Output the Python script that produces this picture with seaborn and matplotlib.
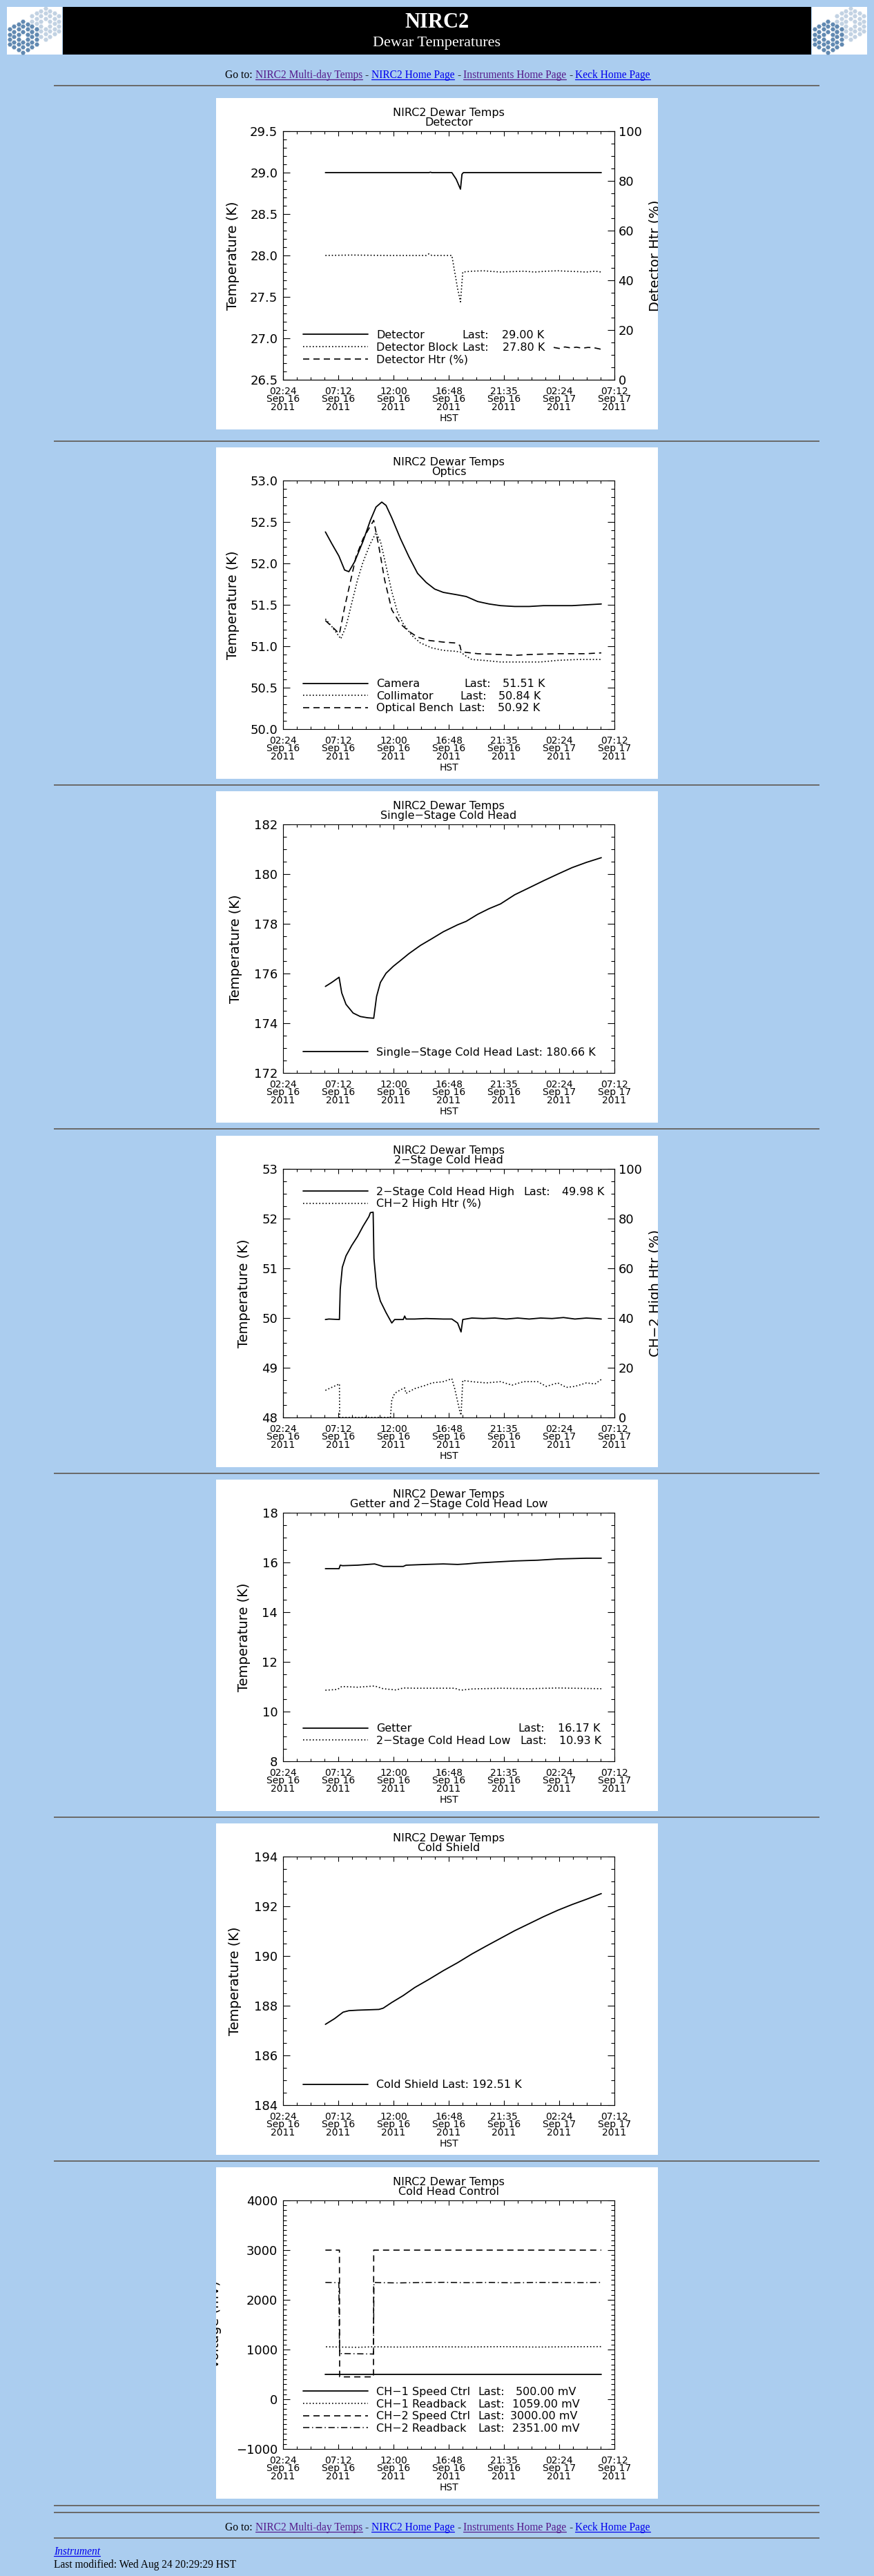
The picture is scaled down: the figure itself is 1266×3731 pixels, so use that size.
import numpy as np
import matplotlib
matplotlib.use("Agg")
import matplotlib.pyplot as plt
import matplotlib.ticker as mticker
from matplotlib.patches import Rectangle
from matplotlib.lines import Line2D
from matplotlib.transforms import Bbox, TransformedBbox
import seaborn as sns

W, H = 1266, 3731
BG = "#abcdef"
PAGE_FONT = ["Liberation Serif", "DejaVu Serif"]
LINK = "#0000ee"
VISITED = "#551a8b"

# time axis: hours after 02:24 Sep 16 2011 (HST)
xtick_hours = [0.0, 4.8, 9.6, 14.4, 19.2, 24.0, 28.8]
xtick_labels = ["02:24\nSep 16\n2011", "07:12\nSep 16\n2011", "12:00\nSep 16\n2011",
                "16:48\nSep 16\n2011", "21:35\nSep 16\n2011", "02:24\nSep 17\n2011",
                "07:12\nSep 17\n2011"]

# --- Detector ---
det_t = [3.68, 12.68, 12.81, 12.93, 14.67, 15.05, 15.42, 15.55, 15.67, 27.66]
det_v = [29.00, 29.00, 29.005, 29.00, 29.00, 28.92, 28.80, 28.98, 29.00, 29.00]
blk_t = [3.68, 6.0, 9.0, 12.44, 12.68, 12.93, 14.67, 14.92, 15.17, 15.42, 15.62, 16.41,
         17.41, 18.9, 19.9, 20.89, 21.89, 22.88, 23.88, 24.62, 25.62, 26.36, 27.11, 27.66]
blk_v = [28.00, 28.005, 28.00, 28.00, 28.02, 28.00, 28.00, 27.80, 27.60, 27.44, 27.80, 27.81,
         27.815, 27.80, 27.805, 27.81, 27.80, 27.81, 27.815, 27.81, 27.805, 27.80, 27.81, 27.80]
dhtr_t = [23.52, 24.0, 24.5, 25.0, 25.5, 26.0, 26.5, 27.0, 27.6]
dhtr_v = [13.0, 12.6, 13.2, 12.8, 13.1, 12.7, 13.0, 12.9, 12.3]

# --- Optics ---
cam_t = [3.68, 4.23, 4.85, 5.35, 5.72, 6.22, 6.96, 7.59, 8.08, 8.58, 8.95, 9.45, 10.20, 10.94,
         11.69, 12.44, 13.18, 13.93, 15.17, 15.92, 16.91, 17.91, 18.90, 20.14, 21.39, 22.63,
         23.88, 25.12, 26.36, 27.66]
cam_v = [52.38, 52.24, 52.09, 51.92, 51.90, 52.02, 52.27, 52.52, 52.68, 52.74, 52.70, 52.55,
         52.30, 52.08, 51.88, 51.77, 51.69, 51.65, 51.62, 51.60, 51.54, 51.51, 51.49, 51.48,
         51.48, 51.49, 51.49, 51.49, 51.50, 51.51]
col_t = [3.68, 4.23, 5.02, 5.47, 5.97, 6.47, 6.96, 7.59, 8.08, 8.46, 8.95, 9.45, 9.95, 10.45,
         11.19, 11.94, 12.93, 13.93, 14.92, 15.42, 15.92, 16.41, 17.41, 18.90, 20.14, 21.39,
         22.38, 23.88, 25.62, 27.66]
col_v = [51.33, 51.24, 51.09, 51.24, 51.52, 51.80, 52.02, 52.24, 52.37, 52.27, 51.97, 51.66,
         51.41, 51.27, 51.13, 51.04, 50.98, 50.95, 50.94, 50.93, 50.88, 50.84, 50.83, 50.81,
         50.81, 50.81, 50.81, 50.83, 50.84, 50.84]
ben_t = [3.68, 4.23, 4.90, 5.35, 5.84, 6.34, 6.96, 7.59, 7.88, 8.33, 8.83, 9.45, 10.20, 10.94,
         11.69, 12.68, 13.93, 14.92, 15.37, 15.47, 15.67, 16.91, 18.90, 20.14, 21.39, 23.88,
         26.36, 27.66]
ben_v = [51.31, 51.24, 51.15, 51.47, 51.77, 52.08, 52.30, 52.45, 52.52, 52.20, 51.80, 51.44,
         51.27, 51.18, 51.11, 51.07, 51.05, 51.04, 51.01, 50.95, 50.93, 50.91, 50.90, 50.89,
         50.90, 50.91, 50.91, 50.92]

# --- Single-stage cold head ---
sch_t = [3.68, 4.23, 4.87, 5.10, 5.47, 6.09, 6.71, 7.34, 7.88, 8.13, 8.46, 8.95, 9.58, 10.20,
         10.94, 11.94, 12.93, 13.93, 15.17, 15.92, 16.91, 17.91, 18.90, 20.14, 21.39, 22.63,
         23.88, 25.12, 26.36, 27.66]
sch_v = [175.48, 175.64, 175.85, 175.22, 174.76, 174.41, 174.27, 174.22, 174.20, 175.08,
         175.64, 176.01, 176.29, 176.52, 176.80, 177.13, 177.40, 177.68, 177.96, 178.10,
         178.38, 178.61, 178.80, 179.17, 179.45, 179.73, 180.00, 180.26, 180.47, 180.66]

# --- 2-stage cold head ---
hi_t = [3.68, 3.98, 4.90, 4.97, 5.15, 5.47, 5.97, 6.47, 6.96, 7.46, 7.59, 7.83, 7.90, 8.13,
        8.46, 8.95, 9.45, 9.70, 10.45, 10.57, 10.69, 11.44, 12.44, 13.93, 14.67, 15.17, 15.47,
        15.62, 16.41, 17.41, 18.40, 19.40, 20.39, 21.39, 22.38, 23.38, 24.37, 25.37, 26.36,
        27.11, 27.66]
hi_v = [49.97, 49.98, 49.97, 50.58, 51.02, 51.25, 51.46, 51.64, 51.85, 52.04, 52.12, 52.13,
        51.20, 50.62, 50.34, 50.11, 49.90, 49.97, 49.97, 50.04, 49.98, 49.98, 49.99, 49.98,
        49.98, 49.90, 49.72, 49.97, 50.00, 49.99, 50.00, 49.98, 50.00, 49.98, 50.00, 49.99,
        50.01, 49.98, 50.00, 49.99, 49.98]
h2_t = [3.68, 4.23, 4.90, 4.92, 9.33, 9.45, 9.70, 10.20, 10.57, 10.69, 11.44, 12.44, 12.93,
        13.93, 14.67, 14.92, 15.37, 15.47, 15.62, 16.41, 17.66, 18.90, 19.90, 20.89, 22.13,
        22.88, 23.88, 24.62, 25.37, 26.36, 27.11, 27.66]
h2_v = [10.9, 12.1, 13.5, 0.0, 0.0, 7.0, 9.7, 11.1, 11.9, 9.7, 11.6, 13.0, 13.9, 14.4, 15.6,
        11.6, 2.3, 0.9, 14.9, 14.4, 13.9, 14.4, 13.0, 14.4, 14.4, 12.5, 13.9, 12.1, 12.5, 13.9,
        13.5, 15.3]

# --- Getter and 2-stage low ---
get_t = [3.68, 4.87, 4.97, 5.17, 6.47, 7.96, 8.70, 10.45, 10.69, 12.44, 13.93, 15.17, 15.92,
         16.91, 18.90, 20.14, 22.13, 23.88, 26.36, 27.66]
get_v = [15.75, 15.75, 15.89, 15.87, 15.89, 15.94, 15.84, 15.84, 15.89, 15.92, 15.94, 15.92,
         15.94, 15.98, 16.03, 16.06, 16.09, 16.14, 16.17, 16.17]
low_t = [3.68, 4.73, 5.10, 6.47, 7.96, 8.70, 9.82, 10.45, 11.44, 14.92, 15.42, 16.41, 18.90,
         21.39, 23.88, 27.66]
low_v = [10.86, 10.89, 11.01, 10.98, 11.03, 10.92, 10.87, 10.95, 10.94, 10.94, 10.86, 10.91,
         10.94, 10.92, 10.95, 10.92]

# --- Cold shield ---
cs_t = [3.68, 4.48, 5.22, 5.72, 6.47, 8.33, 8.70, 9.45, 10.45, 11.44, 12.68, 13.93, 15.17,
        16.41, 17.66, 18.90, 20.14, 21.39, 22.63, 23.88, 25.12, 26.36, 27.66]
cs_v = [187.25, 187.48, 187.74, 187.80, 187.82, 187.85, 187.90, 188.13, 188.41, 188.73,
        189.06, 189.41, 189.73, 190.08, 190.40, 190.71, 191.02, 191.30, 191.58, 191.84,
        192.07, 192.28, 192.51]

# --- Cold head control (mV) ---
c1s_t = [3.68, 15.0, 27.66]
c1s_v = [500, 500, 500]
c1r_t = [3.73, 4.9, 6.5, 7.8, 10.0, 13.0, 16.0, 19.0, 22.0, 25.0, 27.66]
c1r_v = [1055, 1050, 1045, 1055, 1050, 1055, 1052, 1058, 1050, 1056, 1059]
c2s_t = [3.68, 4.90, 4.92, 7.86, 7.88, 27.66]
c2s_v = [3000, 3000, 450, 450, 3000, 3000]
c2r_t = [3.68, 4.85, 4.90, 4.97, 7.83, 7.86, 7.90, 8.5, 10.0, 12.0, 14.0, 16.0, 18.0, 20.0,
         22.0, 24.0, 26.0, 27.66]
c2r_v = [2350, 2345, 1050, 920, 910, 920, 2350, 2345, 2340, 2348, 2352, 2345, 2350, 2342,
         2350, 2348, 2346, 2351]

panel_tops = [142, 648, 1146, 1645, 2143, 2641, 3139]
rule_ys = [124, 639, 1137, 1635, 2134, 2632, 3130, 3629, 3639, 3676]

STYLES = {
    "solid": dict(linestyle="-", lw=1.3),
    "dot": dict(linestyle=(0, (1, 1.8)), lw=1.2),
    "dash": dict(linestyle=(0, (5.4, 3.6)), lw=1.2),
    "dashdot": dict(linestyle=(0, (6, 2.5, 1, 2.5)), lw=1.1),
}

sns.set_style("ticks", rc={"axes.edgecolor": "black", "xtick.color": "black",
                           "ytick.color": "black", "text.color": "black",
                           "axes.labelcolor": "black", "axes.linewidth": 1.2})
plt.rcParams["font.family"] = ["DejaVu Sans"]

fig = plt.figure(figsize=(W / 100, H / 100), dpi=100, facecolor=BG)


def box(x0, y0, w, h, color, z=-5):
    fig.add_artist(Rectangle((x0 / W, 1 - (y0 + h) / H), w / W, h / H,
                             transform=fig.transFigure, facecolor=color,
                             edgecolor="none", zorder=z))


def style_y(axis_obj, major, minor, fmt):
    axis_obj.set_major_locator(mticker.MultipleLocator(major))
    axis_obj.set_minor_locator(mticker.MultipleLocator(minor))
    axis_obj.set_major_formatter(
        mticker.FuncFormatter(lambda v, p: (fmt % v).replace("-", "\u2212")))


def draw_panel(top, subtitle, ylim, major, minor, fmt, ylabel, ylabel_x,
               series, names, legend_top, extras, twin_spec=None):
    box(313, top, 640, 480, "white")
    clip = TransformedBbox(Bbox.from_bounds(313 / W, 1 - (top + 480) / H, 640 / W, 480 / H),
                           fig.transFigure)
    ax = fig.add_axes([410 / W, 1 - (top + 408) / H, 480 / W, 360 / H])
    for t, v, st in series:
        sns.lineplot(x=t, y=v, ax=ax, color="black", estimator=None, sort=False,
                     legend=False, **STYLES[st])
    ax.set_xlim(0, 28.8)
    ax.set_ylim(*ylim)
    ax.set_xticks(xtick_hours)
    ax.set_xticklabels(xtick_labels, linespacing=0.78)
    ax.xaxis.set_minor_locator(mticker.MultipleLocator(1.2))
    style_y(ax.yaxis, major, minor, fmt)
    ax.tick_params(axis="both", which="both", direction="in", width=0.8)
    ax.tick_params(axis="x", which="both", top=True, bottom=True)
    ax.tick_params(axis="x", which="major", length=5, labelsize=10, pad=7)
    ax.tick_params(axis="x", which="minor", length=2.9)
    ax.tick_params(axis="y", which="both", left=True, right=twin_spec is None)
    ax.tick_params(axis="y", which="major", length=7.2, labelsize=13, pad=5.5)
    ax.tick_params(axis="y", which="minor", length=3.6)
    ax.set_title("NIRC2 Dewar Temps\n" + subtitle, fontsize=11.5, linespacing=0.85, pad=6)
    ax.set_xlabel("HST", fontsize=10)
    ax.xaxis.set_label_coords(0.5, -49 / 360)
    ax.set_ylabel(ylabel, fontsize=14)
    ax.yaxis.set_label_coords(ylabel_x, 0.5)
    ax.yaxis.label.set_va("center")
    ax.yaxis.label.set_clip_box(clip)
    ax.yaxis.label.set_clip_on(True)
    handles = list(ax.get_lines())
    if twin_spec is not None:
        tw = ax.twinx()
        for t, v, st in twin_spec["series"]:
            sns.lineplot(x=t, y=v, ax=tw, color="black", estimator=None, sort=False,
                         legend=False, **STYLES[st])
        tw.set_ylim(0, 100)
        style_y(tw.yaxis, 20, 5, "%d")
        tw.tick_params(axis="y", which="both", direction="in", width=0.8, right=True, left=False)
        tw.tick_params(axis="y", which="major", length=7.2, labelsize=13, pad=4)
        tw.tick_params(axis="y", which="minor", length=3.6)
        tw.set_ylabel(twin_spec["ylabel"], fontsize=14)
        tw.yaxis.set_label_coords(1.123, 0.5)
        tw.yaxis.label.set_va("center")
        tw.yaxis.label.set_clip_box(clip)
        tw.yaxis.label.set_clip_on(True)
        handles += list(tw.get_lines())
    leg = ax.legend(handles, names, loc="upper left", bbox_to_anchor=(0.0604, legend_top),
                    frameon=False, fontsize=11.5, handlelength=5.9, handletextpad=0.75,
                    labelspacing=0.16, borderpad=0, borderaxespad=0)
    # "Last:" columns, placed on the legend rows (drawn after the legend)
    for txt, ex in zip(leg.get_texts(), extras):
        if ex is None:
            continue
        lx, val, vx = ex
        for s, x in (("Last:", lx), (val, vx)):
            ax.annotate(s, xy=(x, 0), xycoords=(ax.transAxes, txt), ha="left",
                        va="bottom", fontsize=11.5, zorder=8)
    return ax


def text_run(pieces, y_base, x_left=None, x_center=None, fs=11.2, style="normal"):
    r = fig.canvas.get_renderer()

    def width(s):
        t = fig.text(0, 0, s, fontsize=fs, family=PAGE_FONT, style=style)
        w = t.get_window_extent(r).width
        t.remove()
        return w

    space = width("a a") - width("aa")
    ws = [width(p[0]) for p in pieces]
    total = sum(ws) + space * (len(pieces) - 1)
    x = x_left if x_left is not None else x_center - total / 2
    for (s, c, underline), w in zip(pieces, ws):
        fig.text(x / W, 1 - y_base / H, s, fontsize=fs, family=PAGE_FONT, style=style,
                 color=c, ha="left", va="baseline")
        if underline:
            fig.add_artist(Line2D([x / W, (x + w) / W], [1 - (y_base + 2) / H] * 2,
                                  transform=fig.transFigure, color=c, lw=0.9))
        x += w + space


def logo(x0):
    box(x0, 10, 80, 69, "white")
    lax = fig.add_axes([x0 / W, 1 - 79 / H, 80 / W, 69 / H])
    lax.set_xlim(0, 80)
    lax.set_ylim(69, 0)
    lax.axis("off")
    for (cx, cy), col in (((55.7, 24.3), "#c2d2e3"), ((23.3, 43.3), "#6189b1")):
        xs, ys = [], []
        for q in range(-3, 4):
            for rr in range(-3, 4):
                if abs(q + rr) <= 3 and (q, rr) != (0, 0):
                    xs.append(cx + 1.5 * 4.3 * q)
                    ys.append(cy + np.sqrt(3) * 4.3 * (rr + q / 2))
        lax.scatter(xs, ys, s=24, marker="H", color=col, linewidths=0)


# ---- page header ----
logo(10)
logo(1176)
box(91, 10, 1084, 69, "black")
fig.text(633 / W, 1 - 33 / H, "NIRC2", ha="center", va="center", fontsize=22,
         weight="bold", family=PAGE_FONT, color="white")
fig.text(633 / W, 1 - 63 / H, "Dewar Temperatures", ha="center", va="center", fontsize=16,
         family=PAGE_FONT, color="white")

goto = [("Go to:", "black", False), ("NIRC2 Multi-day Temps", VISITED, True),
        ("-", "black", False), ("NIRC2 Home Page", LINK, True), ("-", "black", False),
        ("Instruments Home Page", VISITED, True), ("-", "black", False),
        ("Keck Home Page", LINK, True)]
text_run(goto, 113, x_center=634)

for y in rule_ys:
    box(78, y - 1, 1109, 2, "#6b6b6b", z=-4)

# ---- plots ----
draw_panel(panel_tops[0], "Detector", (26.5, 29.5), 0.5, 0.1, "%.1f", "Temperature (K)", -0.152,
           [(det_t, det_v, "solid"), (blk_t, blk_v, "dot")],
           ["Detector", "Detector Block", "Detector Htr (%)"], 0.200,
           [(0.540, "29.00 K", 0.660), (0.540, "27.80 K", 0.662), None],
           twin_spec=dict(ylabel="Detector Htr (%)", series=[(dhtr_t, dhtr_v, "dash")]))

draw_panel(panel_tops[1], "Optics", (50.0, 53.0), 0.5, 0.1, "%.1f", "Temperature (K)", -0.152,
           [(cam_t, cam_v, "solid"), (col_t, col_v, "dot"), (ben_t, ben_v, "dash")],
           ["Camera", "Collimator", "Optical Bench"], 0.202,
           [(0.546, "51.51 K", 0.662), (0.534, "50.84 K", 0.651), (0.529, "50.92 K", 0.647)])

draw_panel(panel_tops[2], "Single\u2212Stage Cold Head", (172, 182), 2, 0.5, "%d",
           "Temperature (K)", -0.142, [(sch_t, sch_v, "solid")],
           ["Single\u2212Stage Cold Head Last: 180.66 K"], 0.104, [None])

draw_panel(panel_tops[3], "2\u2212Stage Cold Head", (48, 53), 1, 0.25, "%d",
           "Temperature (K)", -0.117, [(hi_t, hi_v, "solid")],
           ["2\u2212Stage Cold Head High", "CH\u22122 High Htr (%)"], 0.928,
           [(0.725, "49.98 K", 0.842), None],
           twin_spec=dict(ylabel="CH\u22122 High Htr (%)", series=[(h2_t, h2_v, "dot")]))

draw_panel(panel_tops[4], "Getter and 2\u2212Stage Cold Head Low", (8, 18), 2, 0.5, "%d",
           "Temperature (K)", -0.117, [(get_t, get_v, "solid"), (low_t, low_v, "dot")],
           ["Getter", "2\u2212Stage Cold Head Low"], 0.152,
           [(0.710, "16.17 K", 0.829), (0.715, "10.93 K", 0.833)])

draw_panel(panel_tops[5], "Cold Shield", (184, 194), 2, 0.5, "%d", "Temperature (K)", -0.144,
           [(cs_t, cs_v, "solid")], ["Cold Shield Last: 192.51 K"], 0.102, [None])

draw_panel(panel_tops[6], "Cold Head Control", (-1000, 4000), 1000, 100, "%d",
           "Voltage (mV)", -0.205,
           [(c1s_t, c1s_v, "solid"), (c1r_t, c1r_v, "dot"), (c2s_t, c2s_v, "dash"),
            (c2r_t, c2r_v, "dashdot")],
           ["CH\u22121 Speed Ctrl", "CH\u22121 Readback", "CH\u22122 Speed Ctrl",
            "CH\u22122 Readback"], 0.250,
           [(0.589, "500.00 mV", 0.703), (0.589, "1059.00 mV", 0.691),
            (0.589, "3000.00 mV", 0.686), (0.589, "2351.00 mV", 0.691)])

# ---- footer ----
text_run(goto, 3665, x_center=634)
text_run([("Instrument", LINK, True)], 3700, x_left=78, style="italic")
text_run([("Last modified: Wed Aug 24 20:29:29 HST", "black", False)], 3719, x_left=78)

fig.savefig("out.png", dpi=100, facecolor=BG)
